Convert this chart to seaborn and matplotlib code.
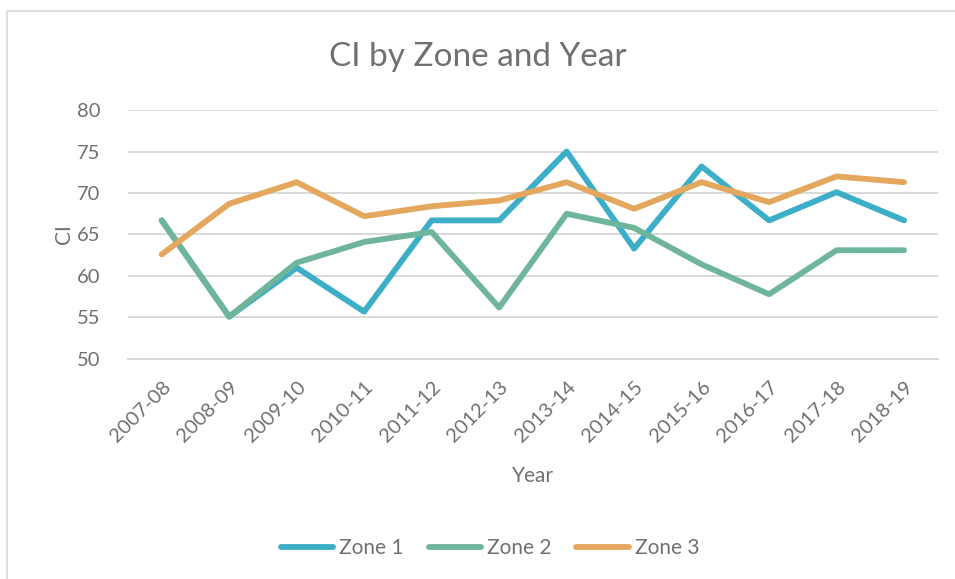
import pandas as pd
import matplotlib.pyplot as plt
import seaborn as sns
from matplotlib.patches import Rectangle

years = ["2007-08", "2008-09", "2009-10", "2010-11", "2011-12", "2012-13",
         "2013-14", "2014-15", "2015-16", "2016-17", "2017-18", "2018-19"]

zone1 = [66.7, 55.1, 61.0, 55.7, 66.7, 66.7, 75.0, 63.3, 73.2, 66.7, 70.1, 66.7]
zone2 = [66.7, 55.1, 61.6, 64.1, 65.3, 56.2, 67.5, 65.8, 61.4, 57.8, 63.1, 63.1]
zone3 = [62.6, 68.7, 71.3, 67.2, 68.4, 69.1, 71.3, 68.1, 71.3, 68.9, 72.0, 71.3]

zones = ["Zone 1", "Zone 2", "Zone 3"]
colors = ["#3DAEC8", "#6FB59B", "#E3A75E"]

df = pd.DataFrame({
    "Year": years * 3,
    "CI": zone1 + zone2 + zone3,
    "Zone": [z for z in zones for _ in years],
})

sns.set_style("white")
plt.rcParams["font.family"] = ["Lato", "DejaVu Sans"]

text_color = "#707070"
grid_color = "#D9D9D9"

fig = plt.figure(figsize=(9.55, 5.79), dpi=100)
ax = fig.add_axes([0.134, 0.380, 0.848, 0.430])

# chart border (only top/left visible in the crop)
fig.patches.append(Rectangle((7 / 955, -0.1), 1.2, 1 - 11 / 579 + 0.1,
                             transform=fig.transFigure, fill=False,
                             edgecolor="#D9D9D9", linewidth=1.2))

sns.lineplot(
    data=df,
    x="Year",
    y="CI",
    hue="Zone",
    palette=colors,
    linewidth=4.2,
    solid_capstyle="round",
    sort=False,
    ax=ax,
)

ax.set_xlim(-0.5, len(years) - 0.5)
ax.set_ylim(50, 80)
ax.set_yticks([50, 55, 60, 65, 70, 75, 80])
ax.yaxis.grid(True, color=grid_color, linewidth=1.4)
ax.set_axisbelow(True)
for s in ["top", "right", "left"]:
    ax.spines[s].set_visible(False)
ax.spines["bottom"].set_color(grid_color)
ax.spines["bottom"].set_linewidth(1.4)

ax.tick_params(axis="both", length=0, colors=text_color, labelsize=14.5)
ax.tick_params(axis="y", pad=20)
ax.tick_params(axis="x", pad=14)
plt.setp(ax.get_xticklabels(), rotation=45, ha="right", rotation_mode="anchor")

ax.set_xlabel("Year", fontsize=15, color=text_color, labelpad=15)
ax.set_ylabel("CI", fontsize=15, color=text_color, labelpad=2)

fig.suptitle("CI by Zone and Year", fontsize=24, color=text_color,
             y=1 - 57 / 579, va="center")

ax.legend(
    loc="center",
    bbox_to_anchor=(490 / 955, 1 - 548 / 579),
    bbox_transform=fig.transFigure,
    ncol=3,
    frameon=False,
    fontsize=15,
    handlelength=2.5,
    handletextpad=0.3,
    columnspacing=1.2,
    labelcolor=text_color,
)

plt.savefig("out.png", dpi=100)
